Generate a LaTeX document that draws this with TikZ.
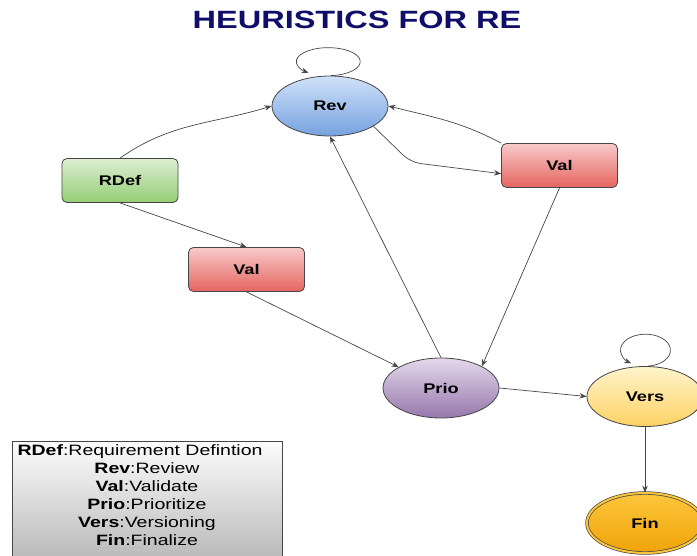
\documentclass[tikz,border=0pt]{standalone}
\usepackage{fontspec}
\setmainfont{Liberation Sans}
\newfontfamily\widesans[FakeStretch=1.3]{Liberation Sans}
\usepackage{tikz}
\usetikzlibrary{shapes.geometric}
\usetikzlibrary{arrows.meta}
\definecolor{titleblue}{RGB}{15,15,105}
\definecolor{lineg}{RGB}{70,70,70}
\definecolor{revtop}{RGB}{208,225,248}
\definecolor{revbot}{RGB}{118,162,224}
\definecolor{rdeftop}{RGB}{220,238,210}
\definecolor{rdefbot}{RGB}{148,205,115}
\definecolor{valtop}{RGB}{247,202,202}
\definecolor{valbot}{RGB}{229,100,95}
\definecolor{priotop}{RGB}{228,216,234}
\definecolor{priobot}{RGB}{150,120,172}
\definecolor{verstop}{RGB}{255,244,204}
\definecolor{versbot}{RGB}{253,210,100}
\definecolor{fintop}{RGB}{252,198,60}
\definecolor{finbot}{RGB}{240,164,8}
\definecolor{legtop}{RGB}{252,252,252}
\definecolor{legbot}{RGB}{182,182,182}

\begin{document}
\begin{tikzpicture}[x=1pt,y=1pt,>={Stealth[length=7pt,width=5.5pt]},
  every node/.style={font=\widesans\bfseries\fontsize{14}{16}\selectfont},
  state/.style={ellipse,draw=lineg,line width=0.8pt,minimum width=116pt,minimum height=60pt,inner sep=0pt},
  task/.style={rectangle,rounded corners=5pt,draw=lineg,line width=0.8pt,minimum width=116pt,minimum height=44pt},
  link/.style={->,draw=lineg,line width=0.7pt}]
  \useasboundingbox (0,0) rectangle (697,-556);
  \node[text=titleblue,font=\widesans\bfseries\fontsize{25}{28}\selectfont] (title) at (357,-20) {HEURISTICS FOR RE};
  \node[state,top color=revtop,bottom color=revbot] (Rev) at (330,-106) {Rev};
  \node[task,top color=rdeftop,bottom color=rdefbot] (RDef) at (120,-180.5) {RDef};
  \node[task,top color=valtop,bottom color=valbot] (valA) at (559.5,-165.5) {Val};
  \node[task,top color=valtop,bottom color=valbot] (valB) at (246.5,-269.5) {Val};
  \node[state,top color=priotop,bottom color=priobot] (Prio) at (441,-388) {Prio};
  \node[state,top color=verstop,bottom color=versbot] (Vers) at (645,-396.5) {Vers};
  \node[state,top color=fintop,bottom color=finbot,double=fintop,double distance=2pt,line width=0.7pt] (Fin) at (645,-523) {Fin};
  \node[draw=lineg,line width=0.8pt,top color=legtop,bottom color=legbot,minimum width=270pt,minimum height=124pt,
    anchor=north,align=center,inner sep=2pt,font=\widesans\fontsize{15}{18}\selectfont] (legend) at (147,-441)
    {\textbf{RDef}:Requirement Defintion\hspace*{14pt}\\ \textbf{Rev}:Review\\ \textbf{Val}:Validate\\
     \textbf{Prio}:Prioritize\\ \textbf{Vers}:Versioning\\ \textbf{Fin}:Finalize\\[-2pt]};
  \draw[link] (Rev.88) arc[start angle=-85,end angle=232,x radius=32,y radius=14];
  \draw[link] (Vers.85) arc[start angle=-85,end angle=235,x radius=25,y radius=16];
  \draw[link] (RDef.north) to[out=35,in=197] (Rev.west);
  \draw[link] (valA.north west) to[out=152,in=-14] (Rev.east);
  \draw[link,rounded corners=10pt] (Rev.-25) -- ++(37,-36) -- (valA.188);
  \draw[link] (RDef.south) -- (valB.north);
  \draw[link] (valB.south) -- (Prio);
  \draw[link] (Prio.north) -- (Rev.south);
  \draw[link] (valA.south) -- (Prio.28);
  \draw[link] (Prio.east) -- (Vers.west);
  \draw[link] (Vers.south) -- (Fin.north);
\end{tikzpicture}
\end{document}
